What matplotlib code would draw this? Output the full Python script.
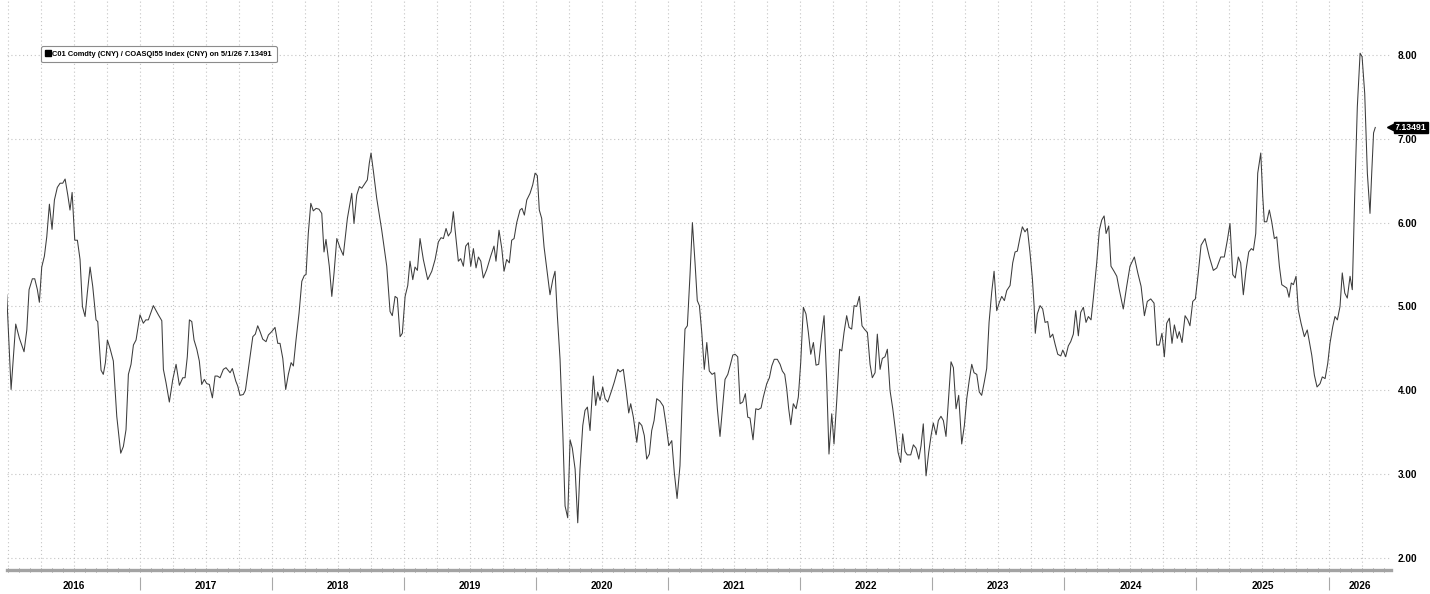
import matplotlib
matplotlib.use("Agg")
import matplotlib.pyplot as plt
import matplotlib.transforms as mtransforms
from matplotlib.lines import Line2D
from matplotlib.ticker import MultipleLocator, FixedLocator, NullFormatter
import numpy as np

# ---------------- data (decimal year, ratio) ----------------
t = [2015.993, 2016.026, 2016.061, 2016.089, 2016.124, 2016.145, 2016.162, 2016.187, 2016.205, 2016.225,
     2016.240, 2016.258, 2016.278, 2016.296, 2016.316, 2016.336, 2016.354, 2016.376, 2016.397, 2016.417,
     2016.435, 2016.455, 2016.472, 2016.488, 2016.508, 2016.528, 2016.548, 2016.566, 2016.586, 2016.603,
     2016.624, 2016.644, 2016.669, 2016.682, 2016.707, 2016.724, 2016.740, 2016.755, 2016.775, 2016.800,
     2016.826, 2016.856, 2016.876, 2016.896, 2016.914, 2016.934, 2016.952, 2016.972, 2017.002, 2017.027,
     2017.046, 2017.065, 2017.103, 2017.141, 2017.167, 2017.179, 2017.199, 2017.224, 2017.250, 2017.275,
     2017.300, 2017.326, 2017.343, 2017.360, 2017.376, 2017.394, 2017.411, 2017.432, 2017.451, 2017.469,
     2017.489, 2017.507, 2017.527, 2017.550, 2017.570, 2017.588, 2017.608, 2017.633, 2017.653, 2017.684,
     2017.701, 2017.727, 2017.742, 2017.759, 2017.784, 2017.800, 2017.818, 2017.835, 2017.856, 2017.875,
     2017.893, 2017.911, 2017.931, 2017.956, 2017.974, 2017.999, 2018.024, 2018.045, 2018.062, 2018.083,
     2018.105, 2018.125, 2018.146, 2018.163, 2018.183, 2018.206, 2018.227, 2018.246, 2018.259, 2018.276,
     2018.295, 2018.314, 2018.335, 2018.357, 2018.378, 2018.395, 2018.410, 2018.435, 2018.454, 2018.471,
     2018.492, 2018.516, 2018.541, 2018.572, 2018.605, 2018.622, 2018.643, 2018.663, 2018.681, 2018.706,
     2018.723, 2018.738, 2018.751, 2018.770, 2018.794, 2018.832, 2018.870, 2018.895, 2018.912, 2018.933,
     2018.950, 2018.971, 2018.988, 2019.009, 2019.029, 2019.046, 2019.067, 2019.084, 2019.102, 2019.122,
     2019.147, 2019.180, 2019.211, 2019.236, 2019.261, 2019.281, 2019.299, 2019.319, 2019.336, 2019.357,
     2019.374, 2019.389, 2019.412, 2019.430, 2019.450, 2019.468, 2019.488, 2019.506, 2019.526, 2019.546,
     2019.564, 2019.582, 2019.601, 2019.627, 2019.657, 2019.682, 2019.697, 2019.720, 2019.741, 2019.758,
     2019.778, 2019.798, 2019.816, 2019.834, 2019.854, 2019.879, 2019.894, 2019.912, 2019.930, 2019.955,
     2019.975, 2019.993, 2020.010, 2020.025, 2020.043, 2020.061, 2020.081, 2020.106, 2020.127, 2020.144,
     2020.162, 2020.182, 2020.203, 2020.220, 2020.240, 2020.258, 2020.275, 2020.296, 2020.316, 2020.333,
     2020.354, 2020.371, 2020.389, 2020.409, 2020.434, 2020.452, 2020.467, 2020.485, 2020.505, 2020.523,
     2020.543, 2020.573, 2020.593, 2020.619, 2020.636, 2020.661, 2020.682, 2020.702, 2020.717, 2020.737,
     2020.763, 2020.780, 2020.801, 2020.820, 2020.838, 2020.858, 2020.876, 2020.894, 2020.914, 2020.939,
     2020.964, 2020.984, 2021.005, 2021.028, 2021.047, 2021.068, 2021.090, 2021.111, 2021.128, 2021.146,
     2021.166, 2021.184, 2021.204, 2021.221, 2021.237, 2021.255, 2021.274, 2021.293, 2021.312, 2021.333,
     2021.353, 2021.373, 2021.393, 2021.414, 2021.431, 2021.452, 2021.469, 2021.490, 2021.507, 2021.527,
     2021.545, 2021.565, 2021.585, 2021.603, 2021.620, 2021.643, 2021.664, 2021.683, 2021.704, 2021.721,
     2021.747, 2021.767, 2021.785, 2021.804, 2021.827, 2021.848, 2021.865, 2021.883, 2021.898, 2021.913,
     2021.929, 2021.948, 2021.969, 2021.986, 2022.004, 2022.024, 2022.044, 2022.062, 2022.080, 2022.100,
     2022.120, 2022.140, 2022.163, 2022.181, 2022.201, 2022.218, 2022.239, 2022.256, 2022.277, 2022.299,
     2022.315, 2022.332, 2022.352, 2022.370, 2022.390, 2022.408, 2022.428, 2022.448, 2022.468, 2022.486,
     2022.509, 2022.529, 2022.546, 2022.567, 2022.584, 2022.605, 2022.622, 2022.642, 2022.660, 2022.680,
     2022.701, 2022.720, 2022.741, 2022.761, 2022.776, 2022.794, 2022.811, 2022.837, 2022.857, 2022.877,
     2022.898, 2022.915, 2022.932, 2022.953, 2022.973, 2022.991, 2023.008, 2023.029, 2023.046, 2023.066,
     2023.084, 2023.104, 2023.125, 2023.142, 2023.160, 2023.180, 2023.200, 2023.223, 2023.243, 2023.261,
     2023.281, 2023.299, 2023.316, 2023.337, 2023.356, 2023.374, 2023.394, 2023.412, 2023.430, 2023.450,
     2023.468, 2023.488, 2023.508, 2023.526, 2023.546, 2023.564, 2023.589, 2023.609, 2023.627, 2023.644,
     2023.664, 2023.682, 2023.702, 2023.720, 2023.740, 2023.758, 2023.771, 2023.780, 2023.795, 2023.816,
     2023.836, 2023.854, 2023.874, 2023.892, 2023.912, 2023.930, 2023.950, 2023.973, 2023.988, 2024.010,
     2024.030, 2024.048, 2024.068, 2024.086, 2024.106, 2024.124, 2024.144, 2024.164, 2024.182, 2024.202,
     2024.219, 2024.245, 2024.265, 2024.283, 2024.301, 2024.316, 2024.336, 2024.353, 2024.376, 2024.397,
     2024.416, 2024.446, 2024.472, 2024.497, 2024.530, 2024.556, 2024.581, 2024.606, 2024.628, 2024.654,
     2024.679, 2024.699, 2024.719, 2024.739, 2024.757, 2024.775, 2024.795, 2024.815, 2024.833, 2024.855,
     2024.870, 2024.891, 2024.914, 2024.934, 2024.951, 2024.972, 2024.992, 2025.014, 2025.035, 2025.065,
     2025.098, 2025.128, 2025.154, 2025.184, 2025.211, 2025.234, 2025.254, 2025.275, 2025.294, 2025.317,
     2025.335, 2025.355, 2025.376, 2025.396, 2025.416, 2025.431, 2025.449, 2025.464, 2025.487, 2025.502,
     2025.514, 2025.532, 2025.552, 2025.570, 2025.590, 2025.608, 2025.628, 2025.646, 2025.665, 2025.684,
     2025.701, 2025.718, 2025.734, 2025.754, 2025.771, 2025.792, 2025.817, 2025.839, 2025.855, 2025.873,
     2025.893, 2025.913, 2025.936, 2025.953, 2025.974, 2025.994, 2026.011, 2026.032, 2026.049, 2026.067,
     2026.087, 2026.104, 2026.123, 2026.142, 2026.163, 2026.180, 2026.198, 2026.218, 2026.239, 2026.254,
     2026.274, 2026.294, 2026.314, 2026.327, 2026.341, 2026.354]

ratio = [5.14, 4.01, 4.79, 4.62, 4.46, 4.72, 5.20, 5.33, 5.33, 5.20,
         5.05, 5.47, 5.60, 5.83, 6.22, 5.92, 6.27, 6.42, 6.47, 6.47,
         6.52, 6.33, 6.15, 6.36, 5.79, 5.79, 5.56, 5.00, 4.88, 5.16,
         5.47, 5.24, 4.84, 4.82, 4.24, 4.19, 4.33, 4.60, 4.50, 4.35,
         3.69, 3.25, 3.33, 3.53, 4.19, 4.31, 4.54, 4.60, 4.90, 4.80,
         4.84, 4.84, 5.01, 4.90, 4.83, 4.25, 4.09, 3.86, 4.13, 4.31,
         4.06, 4.15, 4.15, 4.40, 4.84, 4.82, 4.60, 4.49, 4.35, 4.07,
         4.13, 4.08, 4.07, 3.91, 4.17, 4.17, 4.15, 4.25, 4.27, 4.21,
         4.26, 4.11, 4.05, 3.94, 3.95, 4.00, 4.21, 4.40, 4.64, 4.67,
         4.77, 4.70, 4.61, 4.58, 4.66, 4.70, 4.75, 4.56, 4.56, 4.38,
         4.01, 4.19, 4.33, 4.29, 4.60, 4.92, 5.30, 5.37, 5.38, 5.87,
         6.23, 6.14, 6.17, 6.16, 6.11, 5.65, 5.80, 5.48, 5.12, 5.40,
         5.81, 5.70, 5.61, 6.05, 6.35, 5.99, 6.33, 6.43, 6.41, 6.47,
         6.51, 6.71, 6.83, 6.60, 6.29, 5.91, 5.48, 4.94, 4.89, 5.12,
         5.10, 4.64, 4.68, 5.12, 5.25, 5.54, 5.32, 5.47, 5.43, 5.81,
         5.56, 5.32, 5.42, 5.56, 5.77, 5.82, 5.81, 5.93, 5.84, 5.89,
         6.13, 5.89, 5.54, 5.57, 5.48, 5.72, 5.76, 5.48, 5.69, 5.46,
         5.59, 5.54, 5.34, 5.44, 5.60, 5.72, 5.54, 5.91, 5.69, 5.42,
         5.56, 5.52, 5.79, 5.81, 6.00, 6.15, 6.17, 6.09, 6.27, 6.35,
         6.45, 6.59, 6.56, 6.15, 6.05, 5.71, 5.46, 5.14, 5.32, 5.42,
         4.88, 4.37, 3.49, 2.62, 2.48, 3.41, 3.31, 3.06, 2.42, 3.06,
         3.58, 3.76, 3.80, 3.52, 4.17, 3.82, 3.98, 3.88, 4.04, 3.90,
         3.86, 4.00, 4.10, 4.25, 4.22, 4.25, 4.00, 3.73, 3.84, 3.68,
         3.38, 3.62, 3.58, 3.46, 3.18, 3.24, 3.52, 3.64, 3.90, 3.87,
         3.81, 3.60, 3.34, 3.40, 3.02, 2.71, 3.10, 4.10, 4.73, 4.77,
         5.38, 6.00, 5.52, 5.07, 5.01, 4.69, 4.25, 4.57, 4.23, 4.19,
         4.21, 3.78, 3.45, 3.82, 4.13, 4.19, 4.29, 4.42, 4.43, 4.40,
         3.84, 3.86, 3.96, 3.68, 3.67, 3.41, 3.78, 3.77, 3.79, 3.92,
         4.08, 4.15, 4.29, 4.37, 4.37, 4.31, 4.23, 4.19, 4.02, 3.78,
         3.59, 3.84, 3.78, 3.92, 4.33, 4.99, 4.91, 4.69, 4.43, 4.57,
         4.30, 4.31, 4.67, 4.89, 4.10, 3.24, 3.72, 3.36, 3.88, 4.49,
         4.47, 4.69, 4.89, 4.75, 4.73, 5.01, 5.00, 5.12, 4.77, 4.73,
         4.69, 4.31, 4.15, 4.21, 4.67, 4.25, 4.38, 4.40, 4.49, 4.00,
         3.78, 3.54, 3.26, 3.14, 3.48, 3.27, 3.23, 3.23, 3.35, 3.31,
         3.18, 3.34, 3.60, 2.98, 3.26, 3.46, 3.61, 3.47, 3.64, 3.69,
         3.64, 3.45, 3.94, 4.34, 4.27, 3.78, 3.94, 3.36, 3.58, 3.90,
         4.13, 4.31, 4.21, 4.19, 3.98, 3.94, 4.10, 4.26, 4.81, 5.17,
         5.42, 4.95, 5.05, 5.12, 5.07, 5.19, 5.25, 5.52, 5.65, 5.66,
         5.82, 5.95, 5.89, 5.93, 5.64, 5.33, 5.01, 4.68, 4.91, 5.01,
         4.97, 4.81, 4.82, 4.63, 4.67, 4.55, 4.43, 4.41, 4.48, 4.40,
         4.53, 4.58, 4.67, 4.95, 4.65, 4.93, 4.99, 4.81, 4.88, 4.84,
         5.09, 5.52, 5.91, 6.03, 6.08, 5.87, 5.96, 5.48, 5.42, 5.36,
         5.20, 4.97, 5.24, 5.48, 5.59, 5.40, 5.24, 4.89, 5.06, 5.09,
         5.04, 4.54, 4.54, 4.68, 4.40, 4.80, 4.86, 4.56, 4.78, 4.62,
         4.70, 4.57, 4.89, 4.84, 4.77, 5.06, 5.09, 5.40, 5.73, 5.81,
         5.59, 5.43, 5.46, 5.59, 5.59, 5.79, 5.99, 5.38, 5.34, 5.59,
         5.52, 5.14, 5.44, 5.65, 5.69, 5.67, 5.87, 6.59, 6.83, 6.31,
         6.01, 6.01, 6.15, 6.01, 5.81, 5.83, 5.48, 5.26, 5.24, 5.22,
         5.11, 5.28, 5.26, 5.36, 4.96, 4.80, 4.64, 4.72, 4.58, 4.42,
         4.18, 4.04, 4.08, 4.16, 4.14, 4.32, 4.56, 4.76, 4.88, 4.84,
         5.00, 5.40, 5.16, 5.10, 5.36, 5.20, 6.31, 7.38, 8.02, 7.98,
         7.54, 6.59, 6.11, 6.59, 7.07, 7.13491]

years = list(range(2016, 2027))
year_labels = [str(y) for y in years]
y_ticks = [2.0, 3.0, 4.0, 5.0, 6.0, 7.0, 8.0]
legend_text = "C01 Comdty (CNY) / COASQI55 Index (CNY) on 5/1/26 7.13491"
last_value = ratio[-1]

# ---------------- figure ----------------
FONT = ["Liberation Sans Narrow", "Liberation Sans", "DejaVu Sans"]
plt.rcParams["font.family"] = FONT

W, H = 1430, 594
fig = plt.figure(figsize=(W / 100, H / 100), dpi=100)
ax_left, ax_right, ax_top, ax_bot = 7, 1391, 0, 570
ax = fig.add_axes([ax_left / W, (H - ax_bot) / H, (ax_right - ax_left) / W, (ax_bot - ax_top) / H])

x0, x1 = 2015.995, 2026.473
ax.set_xlim(x0, x1)
ax.set_ylim(1.857, 8.655)

grid_kw = dict(color="#c4c4c4", linestyle=(0, (1, 2.5)), linewidth=0.8)

# line
ax.plot(t, ratio, color="#3c3c3c", linewidth=0.75, zorder=3)

# spines
for s in ("left", "right", "top"):
    ax.spines[s].set_visible(False)
ax.spines["bottom"].set_color("#a3a3a3")
ax.spines["bottom"].set_linewidth(2.4)

# y axis on right
ax.yaxis.tick_right()
ax.set_yticks(y_ticks)
ax.set_yticklabels([f"{v:.2f}" for v in y_ticks])
ax.tick_params(axis="y", length=0, pad=5, labelsize=7.2)
for lab in ax.get_yticklabels():
    lab.set_fontweight("bold")
ax.yaxis.grid(True, **grid_kw)

# x axis: quarter gridlines + monthly small ticks
ax.xaxis.set_major_locator(MultipleLocator(0.25))
ax.xaxis.set_minor_locator(MultipleLocator(1 / 12))
ax.xaxis.set_major_formatter(NullFormatter())
ax.tick_params(axis="x", which="both", direction="inout", length=3.5, width=0.7, color="#8a8a8a")
ax.xaxis.grid(True, which="major", **grid_kw)
ax.set_axisbelow(True)

# year separators slightly below the axis line
sep = ax.secondary_xaxis(-0.012)
sep.spines["bottom"].set_visible(False)
sep.set_xticks(years[1:])
sep.xaxis.set_major_formatter(NullFormatter())
sep.tick_params(axis="x", direction="out", length=9.5, width=0.8, color="#a8a8a8")

# year labels centred in each visible year
lab_ax = ax.secondary_xaxis(0.0)
lab_ax.spines["bottom"].set_visible(False)
mids = [max(y, x0) / 2 + min(y + 1, x1) / 2 for y in years]
lab_ax.set_xticks(mids)
lab_ax.set_xticklabels(year_labels)
lab_ax.tick_params(axis="x", length=0, pad=8, labelsize=7.2)
for lab in lab_ax.get_xticklabels():
    lab.set_fontweight("bold")

# last value tag (black label with a left-pointing tip)
trans = mtransforms.blended_transform_factory(ax.transAxes, ax.transData)
ax.plot([1.0], [last_value], transform=trans, marker="<", markersize=5.5,
        color="black", clip_on=False, zorder=5)
ax.annotate(f"{last_value:.5f}", xy=(1.0, last_value), xycoords=trans,
            xytext=(2.8, 0), textcoords="offset points", ha="left", va="center",
            fontsize=6.3, fontweight="bold", color="white", annotation_clip=False,
            bbox=dict(boxstyle="square,pad=0.12", facecolor="black", edgecolor="black"))

# legend
handle = Line2D([], [], linestyle="none", marker="s", markersize=5,
                markerfacecolor="black", markeredgecolor="black")
leg = ax.legend([handle], [legend_text], loc="upper left",
                bbox_to_anchor=((41 - ax_left) / (ax_right - ax_left), 1 - 46 / ax_bot),
                frameon=True, fancybox=True, borderpad=0.6, handlelength=0.6,
                handletextpad=0.3, borderaxespad=0,
                prop=dict(size=5.45, weight="bold"))
leg.get_frame().set_edgecolor("#8c8c8c")
leg.get_frame().set_linewidth(0.8)
leg.get_frame().set_facecolor("white")
leg.get_frame().set_alpha(1)

fig.savefig("out.png", dpi=100, facecolor="white")
